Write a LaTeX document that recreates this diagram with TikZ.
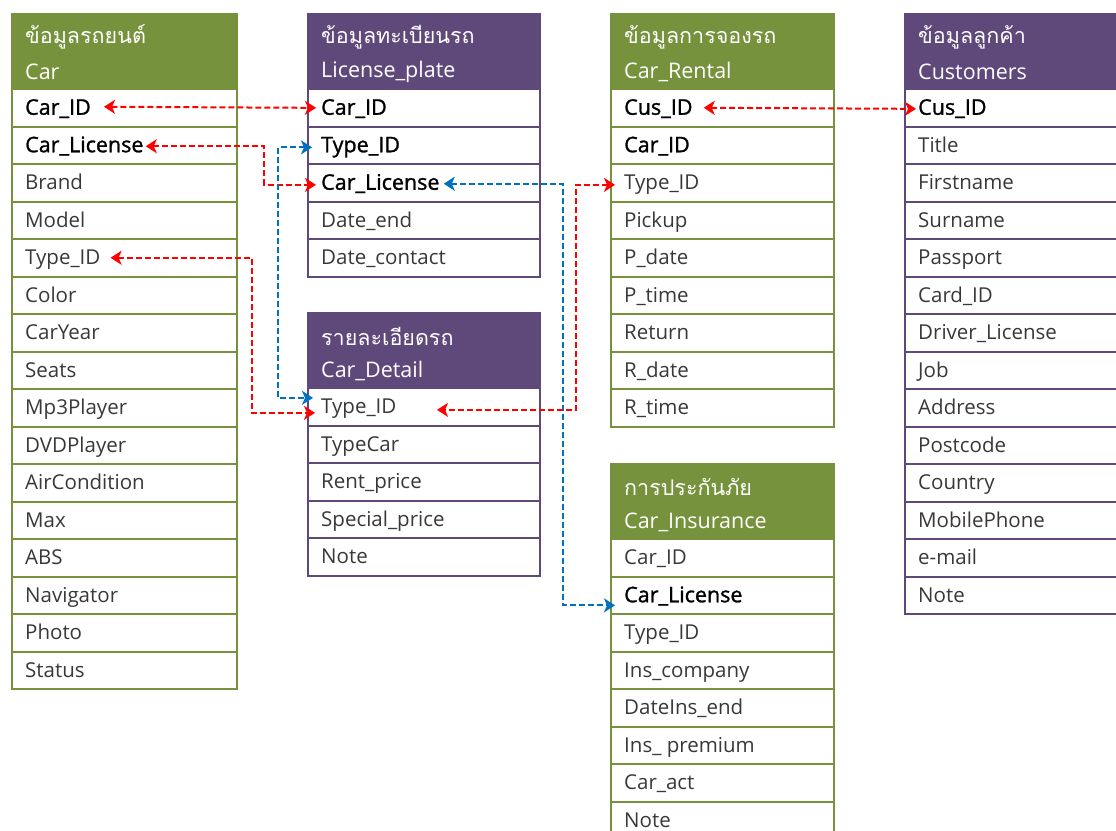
\documentclass[tikz,border=0pt]{standalone}
\usepackage{fontspec}
\setmainfont{Open Sans}
\newfontfamily\keyfont{Open Sans}[FakeBold=1.3]
\newfontfamily\thaifont[Script=Thai]{Loma}
\usetikzlibrary{arrows.meta}
\definecolor{olivehd}{HTML}{76923C}
\definecolor{plumhd}{HTML}{5F497A}
\definecolor{redln}{HTML}{FF0000}
\definecolor{blueln}{HTML}{0070C0}
\definecolor{txtgray}{HTML}{383838}
\tikzset{
  rowbox/.style={draw=#1, line width=2.2pt, rectangle, inner sep=0pt, minimum height=37.5pt, anchor=north west},
  hdrbox/.style={draw=#1, fill=#1, line width=2.2pt, rectangle, inner sep=0pt, minimum height=75pt, anchor=north west},
  hdrtxt/.style={text=white, inner sep=0pt, anchor=west, font=\fontsize{21.5}{24}\selectfont},
  fldn/.style={text=txtgray, inner sep=0pt, anchor=west, text height=20pt, text depth=4pt, font=\fontsize{20.5}{24}\selectfont},
  fldb/.style={text=black, inner sep=0pt, anchor=west, text height=20pt, text depth=4pt, font=\fontsize{21.5}{24}\selectfont\keyfont},
  link/.style={line width=2pt, dash pattern=on 6pt off 3pt, {Stealth[length=11pt,width=14pt,inset=3pt]}-{Stealth[length=11pt,width=14pt,inset=3pt]}},
  redlink/.style={link, draw=redln, color=redln},
  bluelink/.style={link, draw=blueln, color=blueln},
}
% #1 name, #2 x0, #3 x1, #4 ytop, #5 colour, #6 thai title, #7 latin title, #8 fields
\newcommand\mktable[8]{%
  \node[hdrbox=#5, minimum width={(#3-#2)*1pt}] (#1-h) at (#2,#4) {};
  \node[hdrtxt] (#1-th) at (#2+14,#4+24) {\thaifont #6};
  \node[hdrtxt] (#1-tl) at (#2+14,#4+59) {#7};
  \foreach \w/\t [count=\i] in {#8} {
    \pgfmathsetmacro\yy{#4+75+(\i-1)*37.5}
    \node[rowbox=#5, minimum width={(#3-#2)*1pt}] (#1-\i) at (#2,\yy) {};
    \node[\w] (#1-t\i) at (#2+14,\yy+18.75) {\t};
  }
}
\begin{document}
\begin{tikzpicture}[x=1pt,y=-1pt]
\useasboundingbox (0,0) rectangle (1116,830);
\clip (0,0) rectangle (1116,830);
\mktable{car}{11}{236}{13}{olivehd}{ข้อมูลรถยนต์}{Car}{fldb/Car\_ID, fldb/Car\_License, fldn/Brand, fldn/Model, fldn/Type\_ID, fldn/Color, fldn/CarYear, fldn/Seats, fldn/Mp3Player, fldn/DVDPlayer, fldn/AirCondition, fldn/Max, fldn/ABS, fldn/Navigator, fldn/Photo, fldn/Status}
\mktable{lp}{307}{539}{13}{plumhd}{ข้อมูลทะเบียนรถ}{License\_plate}{fldb/Car\_ID, fldb/Type\_ID, fldb/Car\_License, fldn/Date\_end, fldn/Date\_contact}
\mktable{cd}{307}{539}{312}{plumhd}{รายละเอียดรถ}{Car\_Detail}{fldn/Type\_ID, fldn/TypeCar, fldn/Rent\_price, fldn/Special\_price, fldn/Note}
\mktable{cr}{610}{833}{13}{olivehd}{ข้อมูลการจองรถ}{Car\_Rental}{fldb/Cus\_ID, fldb/Car\_ID, fldn/Type\_ID, fldn/Pickup, fldn/P\_date, fldn/P\_time, fldn/Return, fldn/R\_date, fldn/R\_time}
\mktable{ins}{610}{833}{463}{olivehd}{การประกันภัย}{Car\_Insurance}{fldn/Car\_ID, fldb/Car\_License, fldn/Type\_ID, fldn/Ins\_company, fldn/DateIns\_end, fldn/Ins\_ premium, fldn/Car\_act, fldn/Note}
\mktable{cu}{904}{1140}{13}{plumhd}{ข้อมูลลูกค้า}{Customers}{fldb/Cus\_ID, fldn/Title, fldn/Firstname, fldn/Surname, fldn/Passport, fldn/Card\_ID, fldn/Driver\_License, fldn/Job, fldn/Address, fldn/Postcode, fldn/Country, fldn/MobilePhone, fldn/e-mail, fldn/Note}
% bend coordinates
\coordinate (xa) at (264,0);
\coordinate (xb) at (278,0);
\coordinate (xc) at (252,0);
\coordinate (xd) at (563,0);
\coordinate (xe) at (576,0);
% end points
\coordinate (e1) at ([xshift=13pt]car-t1.east);
\coordinate (e2) at ([xshift=9pt]lp-1.west);
\coordinate (e3) at ([xshift=2pt,yshift=-2pt]car-t2.east);
\coordinate (e4) at ([xshift=9pt,yshift=-2pt]lp-3.west);
\coordinate (e5) at ([xshift=5pt,yshift=-2pt]lp-2.west);
\coordinate (e6) at ([xshift=6pt,yshift=9pt]cd-1.west);
\coordinate (e7) at ([xshift=10pt,yshift=-1pt]car-t5.east);
\coordinate (e8) at ([xshift=8pt,yshift=-6pt]cd-1.west);
\coordinate (e9) at ([xshift=4pt,yshift=-2pt]lp-t3.east);
\coordinate (e10) at ([xshift=5pt,yshift=-10pt]ins-2.west);
\coordinate (e11) at ([xshift=5pt,yshift=-2pt]cr-3.west);
\coordinate (e12) at ([xshift=130pt,yshift=-3pt]cd-1.west);
\coordinate (e13) at ([xshift=11pt,yshift=-1pt]cr-t1.east);
\coordinate (e14) at ([xshift=12pt,yshift=-1pt]cu-1.west);
% connectors
\draw[redlink] (e1) -- (e2);
\draw[redlink] (e3) -| (xa |- e4) -- (e4);
\draw[bluelink] (e5) -| (xb |- e6) -- (e6);
\draw[redlink] (e7) -| (xc |- e8) -- (e8);
\draw[bluelink] (e9) -| (xd |- e10) -- (e10);
\draw[redlink] (e11) -| (xe |- e12) -- (e12);
\draw[redlink] (e13) -- (e14);
\end{tikzpicture}
\end{document}
